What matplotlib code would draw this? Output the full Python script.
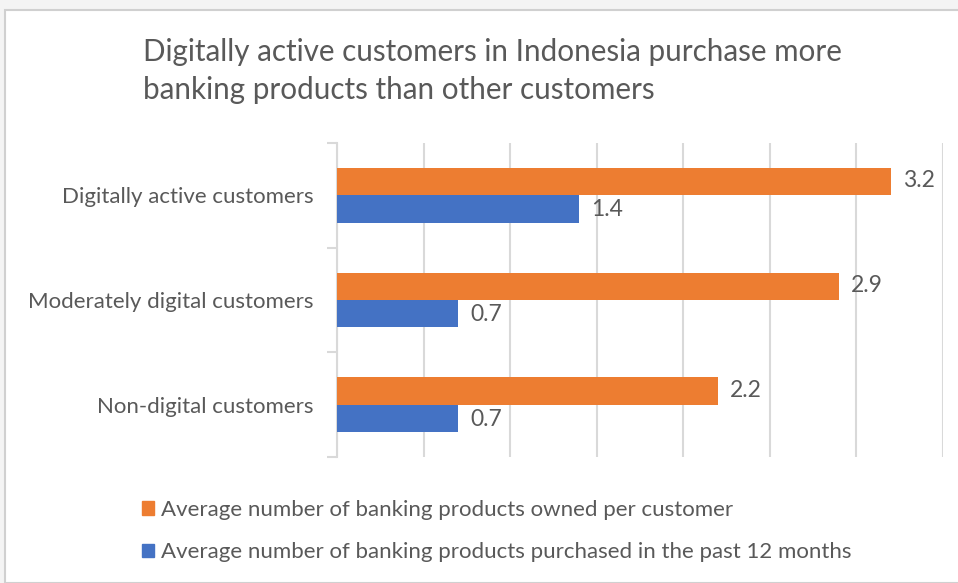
import matplotlib
matplotlib.use("Agg")
import matplotlib.pyplot as plt
from matplotlib.patches import Rectangle
import numpy as np

categories = ["Non-digital customers", "Moderately digital customers", "Digitally active customers"]
owned = [2.2, 2.9, 3.2]
purchased = [0.7, 0.7, 1.4]
series_names = ["Average number of banking products owned per customer",
                "Average number of banking products purchased in the past 12 months"]
title = "Digitally active customers in Indonesia purchase more\nbanking products than other customers"

ORANGE = "#ED7D31"
BLUE = "#4472C4"
TXT = "#595959"
GRID = "#D9D9D9"

plt.rcParams['font.family'] = ['Lato', 'DejaVu Sans']

W, H = 958, 583
fig = plt.figure(figsize=(W/100, H/100), dpi=100)
fig.patch.set_facecolor("#F4F4F4")
fig.patches.append(Rectangle((5/W, 0), 1.0, (H-10)/H, transform=fig.transFigure,
                             facecolor="white", edgecolor="#D0D0D0", linewidth=1.5, zorder=-5))

ax = fig.add_axes([337/W, 126/H, (943-337)/W, (457-143)/H])
ax.set_zorder(2)
ax.set_facecolor("none")
y = np.arange(len(categories))
h = 0.26
ax.barh(y + h/2, owned, height=h, color=ORANGE, zorder=3)
ax.barh(y - h/2, purchased, height=h, color=BLUE, zorder=3)

for yi, v in zip(y, owned):
    ax.text(v + 0.07, yi + h/2 + 0.01, f"{v:.1f}", va="center", ha="left", fontsize=16.5, color=TXT)
for yi, v in zip(y, purchased):
    ax.text(v + 0.07, yi - h/2 - 0.01, f"{v:.1f}", va="center", ha="left", fontsize=16.5, color=TXT)

ax.set_xlim(0, 3.5)
ax.set_ylim(-0.5, 2.5)
ax.set_xticks(np.arange(0, 3.51, 0.5))
ax.xaxis.grid(True, color=GRID, linewidth=1.5, zorder=0)
ax.set_axisbelow(True)
ax.tick_params(axis="x", length=0, labelbottom=False)
ax.set_yticks(y)
ax.set_yticklabels(categories, fontsize=16, color=TXT)
ax.tick_params(axis="y", which="major", length=0, pad=17)
ax.set_yticks(np.arange(-0.5, 2.51, 1.0), minor=True)
ax.tick_params(axis="y", which="minor", length=7, color=GRID, width=1.5)
for s in ["top", "right", "bottom"]:
    ax.spines[s].set_visible(False)
ax.spines["left"].set_color(GRID)
ax.spines["left"].set_linewidth(1.5)

fig.text(143/W, 1 - 71/H, title, fontsize=21.3, color=TXT, ha="left", va="center",
         linespacing=1.45, transform=fig.transFigure)

handles = [Rectangle((0, 0), 1, 1, color=ORANGE), Rectangle((0, 0), 1, 1, color=BLUE)]
leg = fig.legend(handles, series_names, loc="upper left", bbox_to_anchor=(122/W, 1 - 480/H),
                 frameon=False, fontsize=16, labelcolor=TXT, handlelength=0.55, handleheight=0.55,
                 handletextpad=0.3, labelspacing=1.0)

fig.savefig("out.png", dpi=100)
